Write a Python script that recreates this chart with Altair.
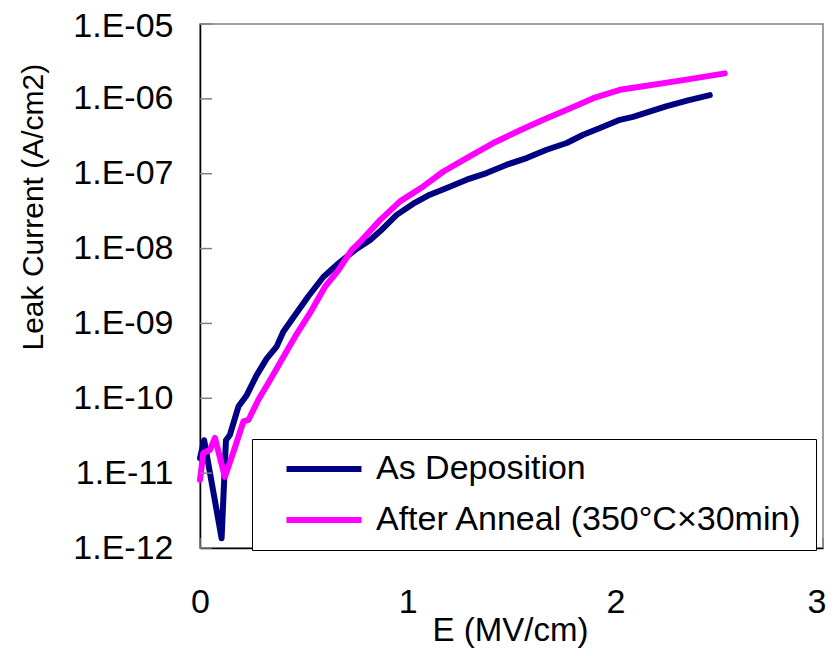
import altair as alt
import pandas as pd

# ---- data ----
series_names = ["As Deposition", "After Anneal (350°C×30min)"]
series_colors = ["#000080", "#FF00FF"]

E_as = [0.0, 0.02, 0.104, 0.125, 0.144, 0.185, 0.225, 0.273, 0.321, 0.369, 0.401,
        0.457, 0.521, 0.594, 0.666, 0.746, 0.818, 0.867, 0.947, 1.027, 1.107,
        1.188, 1.284, 1.380, 1.477, 1.573, 1.669, 1.766, 1.845, 1.926, 2.022,
        2.085, 2.244, 2.35, 2.455]
I_as = [1.58e-11, 2.75e-11, 1.35e-12, 2.75e-11, 3.24e-11, 7.76e-11, 1.10e-10,
        2.04e-10, 3.39e-10, 4.90e-10, 7.76e-10, 1.29e-9, 2.29e-9, 4.17e-9,
        6.31e-9, 9.55e-9, 1.29e-8, 1.70e-8, 2.82e-8, 3.98e-8, 5.25e-8, 6.46e-8,
        8.32e-8, 1.02e-7, 1.32e-7, 1.62e-7, 2.09e-7, 2.57e-7, 3.31e-7, 4.07e-7,
        5.25e-7, 5.75e-7, 7.94e-7, 9.55e-7, 1.12e-6]

E_an = [0.0, 0.016, 0.048, 0.072, 0.120, 0.169, 0.209, 0.233, 0.281, 0.337,
        0.393, 0.457, 0.530, 0.602, 0.666, 0.730, 0.778, 0.867, 0.963, 1.075,
        1.172, 1.284, 1.412, 1.541, 1.653, 1.781, 1.894, 2.022, 2.119, 2.327,
        2.527]
I_an = [8.13e-12, 1.86e-11, 2.04e-11, 2.95e-11, 8.91e-12, 2.24e-11, 4.90e-11,
        5.13e-11, 9.55e-11, 1.74e-10, 3.24e-10, 6.61e-10, 1.38e-9, 3.09e-9,
        5.13e-9, 9.55e-9, 1.29e-8, 2.40e-8, 4.27e-8, 6.76e-8, 1.07e-7, 1.62e-7,
        2.57e-7, 3.80e-7, 5.25e-7, 7.41e-7, 1.02e-6, 1.32e-6, 1.45e-6, 1.78e-6,
        2.19e-6]

y_tick_values = [1e-12, 1e-11, 1e-10, 1e-9, 1e-8, 1e-7, 1e-6, 1e-5]
x_tick_values = [0, 1, 2, 3]

FONT = "Liberation Sans"
W, H = 623, 524

df = pd.concat([
    pd.DataFrame({"E": E_as, "I": I_as, "series": series_names[0], "k": 0}),
    pd.DataFrame({"E": E_an, "I": I_an, "series": series_names[1], "k": 1}),
], ignore_index=True)

x_scale = alt.Scale(domain=[0, 3], nice=False, zero=False)
y_scale = alt.Scale(type="log", domain=[1e-12, 1e-5], nice=False)

label_expr = ("'1.E-' + (round(-log(datum.value)/LN10) < 10 ? '0' : '') + "
              "round(-log(datum.value)/LN10)")

lines = alt.Chart(df).mark_line(
    strokeWidth=6, strokeCap="round", strokeJoin="round"
).encode(
    x=alt.X("E:Q", scale=x_scale, axis=alt.Axis(
        values=x_tick_values, format="d", title="E (MV/cm)", grid=False,
        ticks=False, tickSize=0, domainColor="black", domainWidth=1.5,
        labelFont=FONT, labelFontSize=34, labelColor="black", labelPadding=37,
        labelFlush=False,
        labelAlign={"condition": {"test": "datum.value == 3", "value": "right"},
                    "value": "center"},
        labelOffset={"condition": {"test": "datum.value == 3", "value": 3},
                     "value": 0},
        titleFont=FONT, titleFontSize=33, titleFontWeight="normal", titleColor="black",
        titleX=310, titleY=92, titleAlign="center", titleBaseline="alphabetic")),
    y=alt.Y("I:Q", scale=y_scale, axis=alt.Axis(
        values=y_tick_values, labelExpr=label_expr, title="Leak Current (A/cm2)",
        grid=False, ticks=False, tickSize=0, domainColor="black", domainWidth=1.5,
        labelFont=FONT, labelFontSize=34, labelColor="black", labelPadding=27,
        labelFlush=False,
        labelOffset={"condition": {"test": "datum.value > 5e-6", "value": 2},
                     "value": 0},
        titleFont=FONT, titleFontSize=30, titleFontWeight="normal", titleColor="black",
        titleAngle=270, titleX=-167, titleY=326, titleAlign="left",
        titleBaseline="middle")),
    color=alt.Color("series:N", scale=alt.Scale(domain=series_names, range=series_colors),
                    legend=alt.Legend(
                        title=None, orient="none", legendX=52, legendY=415,
                        symbolType="M-3,0H3", symbolSize=625, symbolStrokeWidth=6,
                        symbolOffset=42, labelOffset=35,
                        labelFont=FONT, labelFontSize=34, labelColor="black",
                        labelLimit=0, rowPadding=17, padding=13,
                        strokeColor="black", fillColor="white")),
    order="k:Q",
)

ytick_df = pd.DataFrame({"I": y_tick_values})
yticks = alt.Chart(ytick_df).mark_rule(color="#808080", strokeWidth=1.5).encode(
    y=alt.Y("I:Q", scale=y_scale), x=alt.value(0), x2=alt.value(12))

xtick_df = pd.DataFrame({"E": x_tick_values})
xticks = alt.Chart(xtick_df).mark_rule(color="#808080", strokeWidth=1.5).encode(
    x=alt.X("E:Q", scale=x_scale), y=alt.value(H), y2=alt.value(H - 10))

chart = alt.layer(lines, yticks, xticks).properties(
    width=W, height=H,
    padding={"left": 192, "top": 16, "right": 3, "bottom": 100},
    autosize=alt.AutoSizeParams(type="none"),
    background="white",
).configure_view(stroke="#808080", strokeWidth=1.5)

chart.save("out.html", embed_options={"renderer": "svg", "actions": False})
